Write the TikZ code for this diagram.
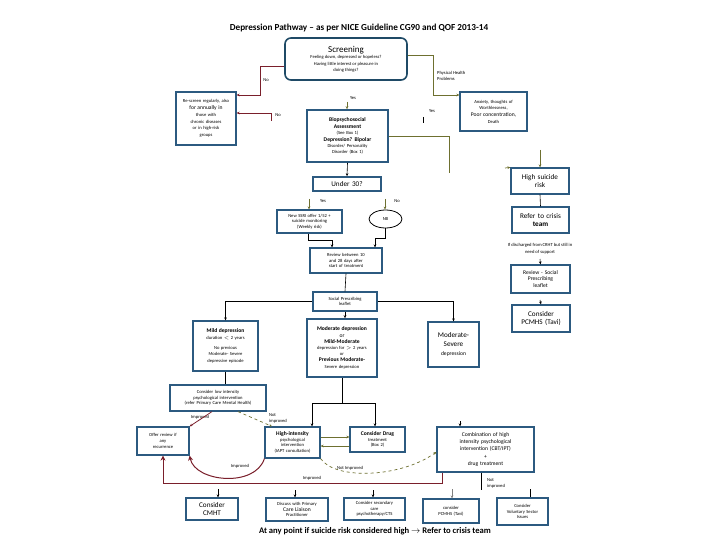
\documentclass[tikz,border=0pt]{standalone}
\usepackage{fontspec}
\setmainfont{Carlito}
\usetikzlibrary{arrows.meta,shapes.geometric}
\definecolor{boxblue}{HTML}{2C5A80}
\definecolor{scrblue}{HTML}{1F4A66}
\definecolor{dred}{HTML}{7A1F2B}
\definecolor{oliv}{HTML}{6E7030}
\newcommand\tinyf{\fontsize{4.6}{5.7}\selectfont}
\newcommand\smallf{\fontsize{5.6}{6.9}\selectfont}
\newcommand\midf{\fontsize{7.2}{8.6}\selectfont}
\begin{document}
\begin{tikzpicture}[x=1pt,y=-1pt,
  bx/.style={draw=boxblue, line width=1.2pt, fill=white, inner sep=1pt, align=center, font=\tinyf},
  lbl/.style={font=\tinyf, inner sep=0pt, align=left},
  blk/.style={draw=black, line width=0.6pt},
  redl/.style={draw=dred, line width=0.8pt},
  oll/.style={draw=oliv, line width=0.7pt},
  tip/.style={-{Stealth[length=3pt,width=2.6pt]}},
  bigtip/.style={-{Stealth[length=5pt,width=5pt]}}]
\useasboundingbox (0,0) rectangle (720,540);
\fill[white] (0,0) rectangle (720,540);

% title
\node[font=\bfseries\fontsize{9.2}{10}\selectfont] (title) at (359,28) {Depression Pathway -- as per NICE Guideline CG90 and QOF 2013-14};

% boxes
\node[draw=scrblue, line width=1.6pt, rounded corners=6pt, minimum width=122pt, minimum height=42pt, inner sep=1pt, align=center, font=\tinyf] (screen) at (346,59)
 {{\fontsize{9}{10}\selectfont Screening}\\[1pt] Feeling down, depressed or hopeless?\\[0.5pt] Having little interest or pleasure in\\[0.5pt] doing things?};
\node[bx, minimum width=60pt, minimum height=53pt, text width=57pt] (left) at (206,118.5)
 {Re-screen regularly, also\\[1pt] {\smallf for annually in}\\[1pt] those with\\[1pt] chronic diseases\\[1pt] or in high-risk\\[1pt] groups};
\node[bx, minimum width=67pt, minimum height=39pt, text width=64pt] (anx) at (493.5,111.5)
 {Anxiety, thoughts of\\[1pt] Worthlessness,\\[1pt] {\smallf Poor concentration,}\\[1pt] Death};
\node[bx, line width=1.6pt, minimum width=81pt, minimum height=52pt, text width=78pt] (bio) at (347.5,136)
 {{\smallf\bfseries Biopsychosocial}\\[1.5pt] {\smallf\bfseries Assessment}\\[0.5pt] (See Box 1)\\[1pt] {\smallf\bfseries Depression? Bipolar}\\[0.5pt] Disorder/ Personality\\[0.5pt] Disorder (Box 1)};
\node[bx, minimum width=58pt, minimum height=26pt, text width=55pt, font=\midf] (hsr) at (540,181) {High suicide\\risk};
\node[bx, minimum width=57pt, minimum height=26pt, text width=54pt, font=\midf] (crisis) at (540.5,220) {Refer to crisis\\{\bfseries team}};
\node[bx, minimum width=59pt, minimum height=28pt, text width=56pt, font=\smallf] (revsp) at (540.5,279) {Review - Social\\Prescribing\\leaflet};
\node[bx, minimum width=58pt, minimum height=27pt, text width=55pt, font=\midf] (pcmhs) at (541,318.5) {Consider\\PCMHS (Tavi)};
\node[bx, line width=1.6pt, minimum width=68pt, minimum height=14pt, text width=65pt, font=\midf] (u30) at (347,184) {Under 30?};
\node[bx, minimum width=65pt, minimum height=23pt, text width=62pt] (ssri) at (309.5,221.5) {New SSRI offer 1/52 +\\suicide monitoring\\(Weekly risk)};
\node[ellipse, draw=black, line width=0.8pt, fill=white, minimum width=33pt, minimum height=18pt, inner sep=0pt, font=\tinyf] (nb) at (385.5,219) {NB};
\node[bx, minimum width=72pt, minimum height=25pt, text width=69pt] (review) at (346,260.5) {Review between 10\\and 28 days after\\start of treatment};
\node[bx, minimum width=64pt, minimum height=19pt, text width=61pt] (socp) at (345,301.5) {Social Prescribing\\leaflet};
\node[bx, minimum width=65pt, minimum height=50pt, text width=62pt] (mild) at (225.5,346)
 {{\smallf\bfseries Mild depression}\\[1pt] duration $<$ 2 years\\[4pt] No previous\\[1pt] Moderate- Severe\\[1pt] depressive episode};
\node[bx, line width=1.6pt, minimum width=70pt, minimum height=58pt, text width=67pt] (mod) at (342,348)
 {{\smallf\bfseries Moderate depression}\\[0.5pt] {\smallf or}\\[0.5pt] {\smallf\bfseries Mild-Moderate}\\[0.5pt] depression for $>$ 2 years\\[0.5pt] or\\[0.5pt] {\smallf\bfseries Previous Moderate-}\\[0.5pt] Severe depression};
\node[bx, minimum width=51pt, minimum height=45pt, text width=48pt, font=\midf] (modsev) at (453.5,344.5) {Moderate-\\Severe\\{\smallf depression}};
\node[bx, minimum width=96pt, minimum height=26pt, text width=93pt] (lowint) at (218,398) {Consider low intensity\\psychological intervention\\(refer Primary Care Mental Health)};
\node[bx, minimum width=52pt, minimum height=28pt, text width=49pt] (offer) at (163,441) {Offer review if\\any\\recurrence};
\node[bx, minimum width=55pt, minimum height=31pt, text width=52pt] (hi) at (292.5,442.5) {{\smallf\bfseries High-intensity}\\psychological\\intervention\\(IAPT consultation)};
\node[bx, minimum width=55pt, minimum height=25pt, text width=52pt] (drug) at (377.5,439.5) {{\smallf\bfseries Consider Drug}\\treatment\\(Box 2)};
\node[bx, minimum width=97pt, minimum height=45pt, text width=94pt, font=\smallf] (comb) at (485.5,449.5) {Combination of high\\[0.5pt] intensity psychological\\[0.5pt] intervention (CBT/IPT)\\[0.5pt] +\\[0.5pt] drug treatment};
\node[bx, minimum width=52pt, minimum height=22pt, text width=49pt, font=\midf] (b1) at (212,509) {Consider\\CMHT};
\node[bx, minimum width=62pt, minimum height=23pt, text width=59pt] (b2) at (297,509.5) {Discuss with Primary\\{\smallf Care Liaison}\\Practitioner};
\node[bx, minimum width=61pt, minimum height=22pt, text width=58pt] (b3) at (374.5,509) {Consider secondary\\care\\psychotherapy/CTS};
\node[bx, minimum width=56pt, minimum height=24pt, text width=53pt] (b4) at (451,511) {consider\\PCMHS (Tavi)};
\node[bx, minimum width=51pt, minimum height=27pt, text width=48pt] (b5) at (522.5,511.5) {Consider\\Voluntary Sector\\Issues};

% bottom text
\node[font=\bfseries\fontsize{8.6}{10}\selectfont] (foot) at (375,531) {At any point if suicide risk considered high $\rightarrow$ Refer to crisis team};

% labels
\node[lbl] (lno1) at (266,80) {No};
\node[lbl, anchor=west] (lphys) at (437,76) {Physical Health\\Problems};
\node[lbl] (lyes1) at (353,98) {Yes};
\node[lbl] (lno2) at (278,115) {No};
\node[lbl] (lyes2) at (432,111) {Yes};
\node[lbl] (lyes3) at (323,201) {Yes};
\node[lbl] (lno3) at (397,201) {No};
\node[lbl, align=center] (ldis) at (540,249) {If discharged from CRHT but still in\\[1pt] need of support};
\node[lbl] (limp1) at (200,417) {Improved};
\node[lbl] (lnot1) at (278,418.5) {Not\\improved};
\node[lbl] (limp2) at (240,466) {Improved};
\node[lbl] (lnot2) at (350,468) {Not Improved};
\node[lbl] (limp3) at (312,478) {Improved};
\node[lbl] (lnot3) at (496,483.5) {Not\\improved};

% free ends
\coordinate (n2) at (271,121);
\coordinate (yesA) at (347,102);
\coordinate (tickA) at (423,117);
\coordinate (tickB) at (423,123);
\coordinate (bioR) at (449,173);
\coordinate (anxD) at (540,150);
\coordinate (hsrA) at (505,168);
\coordinate (spA) at (540,259);
\coordinate (spB) at (540,300);
\coordinate (u30Y) at (309,199);
\coordinate (u30N) at (385,199);
\coordinate (msA) at (460,421);
\coordinate (combD) at (481,490);
\coordinate (e1) at (218,489);
\coordinate (e2) at (295,490);
\coordinate (e3) at (373,490);
\coordinate (e4) at (452,489);
\coordinate (e5) at (530,489);

% connectors
\draw[redl,tip] ([yshift=-7pt]screen.west) -| (260,95) -- (left.east |- 0,95);
\draw[redl,tip] (n2) -- (271,113) -- (left.east |- 0,113);
\draw[oll,tip] ([yshift=4pt]screen.east) -| (433,95) -- (anx.west |- 0,95);
\draw[oll,tip] (yesA) -- (bio.north -| yesA);
\draw[blk] (tickA) -- (tickB);
\draw[oll] (bio.east) -| (bioR);
\draw[oll,tip] (anxD) -- (hsr.north);
\draw[oll,tip] (hsrA) -- (hsr.north west);
\draw[blk] (hsr.south) -- (crisis.north);
\draw[blk,tip] (spA) -- (revsp.north);
\draw[blk,tip] (spB) -- (pcmhs.north);
\draw[blk,tip] (bio.south) -- (u30.north);
\draw[oll,tip] (u30Y) -- (ssri.north -| u30Y);
\draw[oll,tip] (u30N) -- (nb.north -| u30N);
\draw[blk,tip] (ssri.south -| 308,0) -- (308,240) -- (332,240) -- (review.north -| 332,0);
\draw[blk,tip] (nb.south -| 385,0) -- (385,238) -- (375,238) -- (review.north -| 375,0);
\draw[blk] (review.south) -- (socp.north);
\draw[blk,tip] (socp.west) -| (mild.north);
\draw[blk,tip] (socp.east) -| (modsev.north);
\draw[blk,tip] (socp.south) -- (mod.north -| socp.south);
\draw[blk] (mild.south) -- (lowint.north -| mild.south);
\draw[redl,tip] (lowint.south -| 212,0) -- (offer.north east);
\draw[oll,dashed,tip] (lowint.south -| 238,0) -- (hi.north -| 272,0);
\draw[blk] (mod.south) -- (342,403);
\draw[blk,tip] (342,403) -| (hi.north -| 312,0);
\draw[blk,tip] (342,403) -| (drug.north -| 375,0);
\draw[oll,tip] (hi.east |- 0,437) -- (drug.west |- 0,437);
\draw[oll,tip] (drug.west |- 0,446) -- (hi.east |- 0,446);
\draw[oll,dashed,tip] (hi.south east) .. controls (335,480) and (400,478) .. (comb.west |- 0,452);
\draw[redl,line width=1pt,bigtip] (hi.south west) .. controls (255,488) and (195,482) .. (offer.south east);
\draw[redl,bigtip] (comb.south -| 442,0) -- (442,483) -- (163,483) -- (offer.south);
\draw[blk] (comb.south -| combD) -- (combD);
\draw[blk,tip] (msA) -- (comb.north -| msA);
\draw[blk,tip] (e1) -- (b1.north -| e1);
\draw[blk,tip] (e2) -- (b2.north -| e2);
\draw[blk,tip] (e3) -- (b3.north -| e3);
\draw[draw=gray,line width=0.6pt,tip] (e4) -- (b4.north -| e4);
\draw[blk] (e5) -- (b5.north -| e5);
\end{tikzpicture}
\end{document}
